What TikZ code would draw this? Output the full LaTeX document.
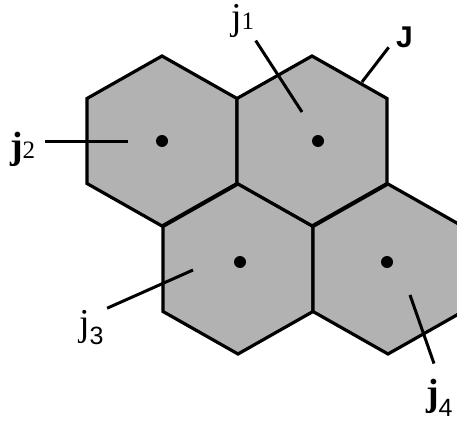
\documentclass[tikz,border=0pt]{standalone}
\usepackage{fontspec}
\setmainfont{Liberation Serif}
\setsansfont{Liberation Sans}
\begin{document}
\begin{tikzpicture}[x=1pt,y=-1pt,
  cell/.style={fill=black!30,draw=black,line width=3.2pt,line join=miter},
  lead/.style={line width=3pt},
  lbl/.style={inner sep=0pt,outer sep=0pt,anchor=base west},
  big/.style={font=\fontsize{38}{40}\selectfont},
  every node/.style={inner sep=0pt}]
  \useasboundingbox (0,0) rectangle (457,425);
  \clip (0,0) rectangle (457,425);
  % four cells
  \foreach \cx/\cy in {162/141, 312/141, 238/269, 388/269}{
    \draw[cell] (\cx,\cy-85) -- (\cx+75,\cy-42.5) -- (\cx+75,\cy+42.5)
      -- (\cx,\cy+85) -- (\cx-75,\cy+42.5) -- (\cx-75,\cy-42.5) -- cycle;
  }
  % centre dots
  \fill (162,141) circle (6);
  \fill (318,141) circle (6);
  \fill (240,262) circle (6);
  \fill (387,262) circle (6);
  % leader tips
  \coordinate (p1) at (302,112);
  \coordinate (p2) at (128,141);
  \coordinate (p3) at (193,270);
  \coordinate (p4) at (410,295);
  \coordinate (pJ) at (362,82);
  % labels
  \node[lbl,big] (lj1) at (231,30) {j\fontsize{25}{26}\selectfont 1};
  \node[lbl,big] (lj2) at (10,158) {\textbf{j}\fontsize{25}{26}\selectfont 2};
  \node[lbl,big] (lj3) at (79,335) {j\raisebox{-9pt}{\fontsize{25}{26}\sffamily 3}};
  \node[lbl,big] (lj4) at (426,405) {\textbf{j}\raisebox{-11pt}{\fontsize{25}{26}\sffamily 4}};
  \node[lbl,font=\fontsize{30}{32}\sffamily\bfseries] (lJ) at (396,48) {J};
  % leaders
  \draw[lead,shorten >=3pt] (p1) -- (lj1.south east);
  \draw[lead,shorten <=10pt] (lj2.east |- p2) -- (p2);
  \draw[lead,shorten <=4pt] (lj3.north east) -- (p3);
  \draw[lead,shorten <=16pt] (lj4.north) -- (p4);
  \draw[lead,shorten <=12pt] (lJ.west) -- (pJ);
\end{tikzpicture}
\end{document}
